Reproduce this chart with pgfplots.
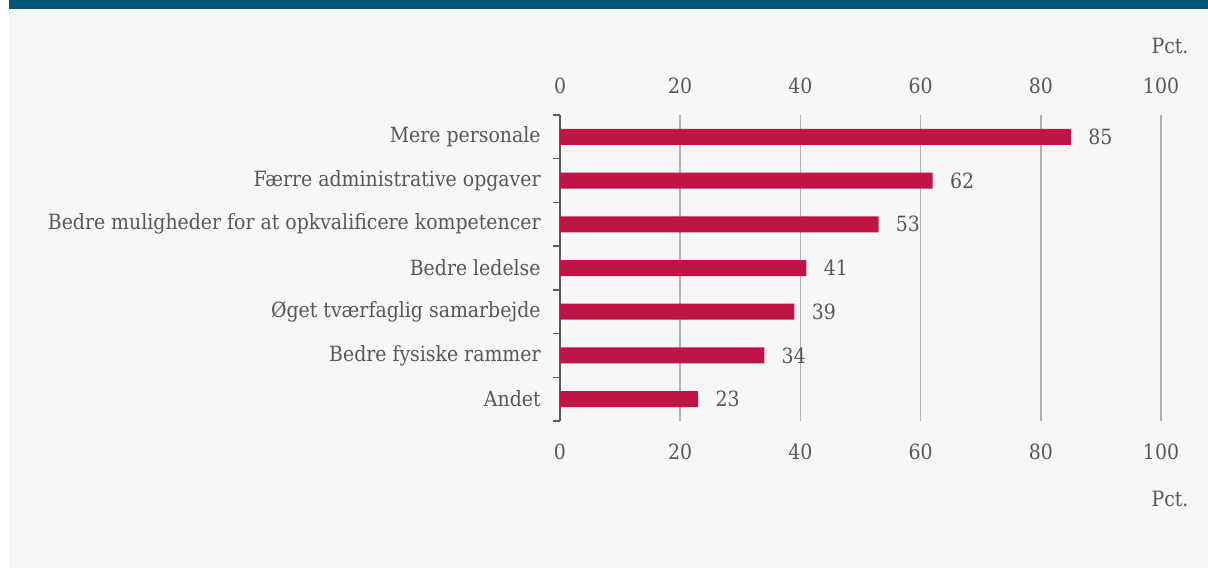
\documentclass[border=0pt]{standalone}
\usepackage{pgfplots}
\pgfplotsset{compat=1.18}
\usepackage{fontspec}
\setmainfont{DejaVu Serif Condensed}
\definecolor{barred}{HTML}{BE1446}
\definecolor{topteal}{HTML}{005675}
\definecolor{panel}{HTML}{F7F7F7}
\definecolor{txt}{HTML}{575757}
\definecolor{gridg}{HTML}{B3B3B3}
\definecolor{axisg}{HTML}{5A5A5A}
\newcommand{\lblfont}{\fontsize{10.5}{12}\selectfont}

\begin{document}
\begin{tikzpicture}
\path[use as bounding box] (0pt,0pt) rectangle (604pt,284pt);
\fill[white] (0pt,0pt) rectangle (604pt,284pt);
\fill[panel] (4.5pt,0pt) rectangle (604pt,284pt);
\fill[topteal] (4.5pt,279.5pt) rectangle (604pt,284pt);

% main axis: bars, grid, category labels, lower tick labels
\begin{axis}[
  at={(280pt,73.5pt)}, anchor=south west,
  scale only axis, width=300.5pt, height=153pt,
  xbar, bar width=8pt,
  xmin=0, xmax=100, ymin=-0.5, ymax=6.5, y dir=reverse,
  xtick={0,20,...,100}, ytick={0,...,6},
  yticklabels={Mere personale, Færre administrative opgaver, Bedre muligheder for at opkvalificere kompetencer\ , Bedre ledelse, Øget tværfaglig samarbejde, Bedre fysiske rammer, Andet},
  minor ytick={-0.5,0.5,...,6.5},
  axis x line*=bottom, axis y line*=left,
  x axis line style={draw=none},
  y axis line style={axisg, line width=0.75pt},
  major tick length=0pt, minor tick length=3.5pt, tick align=outside,
  minor tick style={axisg, line width=0.75pt},
  xmajorgrids, major x grid style={gridg, line width=0.75pt},
  /pgf/number format/assume math mode=true,
  yticklabel style={anchor=east, inner sep=0pt, xshift=-9.5pt, font=\lblfont, text=txt},
  xticklabel style={anchor=center, inner sep=0pt, yshift=-15.5pt, font=\lblfont, text=txt},
  nodes near coords,
  nodes near coords style={anchor=west, inner sep=0pt, xshift=8.5pt, font=\lblfont, text=txt},
]
\addplot[fill=barred, draw=none] coordinates {(85,0) (62,1) (53,2) (41,3) (39,4) (34,5) (23,6)};
\end{axis}

% twin axis: upper tick labels
\begin{axis}[
  at={(280pt,73.5pt)}, anchor=south west,
  scale only axis, width=300.5pt, height=153pt,
  xmin=0, xmax=100, ymin=-0.5, ymax=6.5,
  xtick={0,20,...,100},
  hide y axis, axis x line*=top,
  x axis line style={draw=none},
  major tick length=0pt,
  /pgf/number format/assume math mode=true,
  xticklabel style={anchor=center, inner sep=0pt, yshift=14.5pt, font=\lblfont, text=txt},
]
\end{axis}

\node[text=txt, font=\lblfont] at (585pt,261pt) {Pct.};
\node[text=txt, font=\lblfont] at (585pt,34.5pt) {Pct.};
\end{tikzpicture}
\end{document}
